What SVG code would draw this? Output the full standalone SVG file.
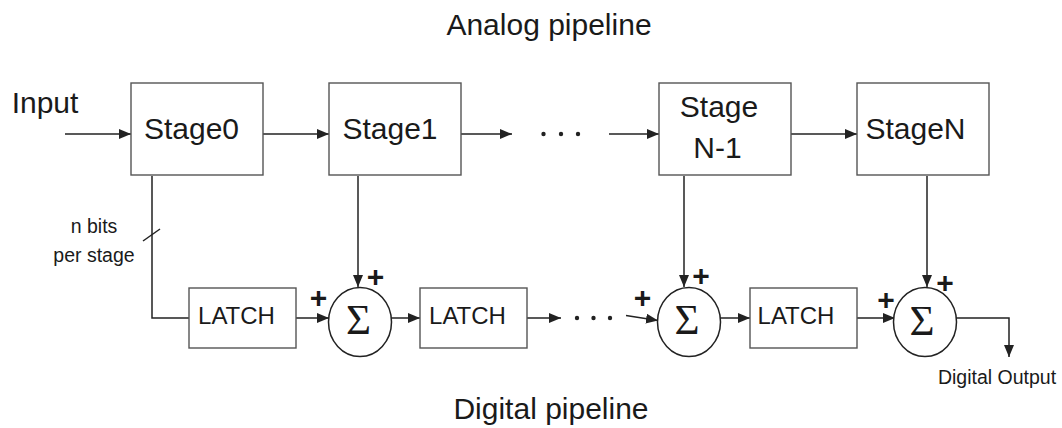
<svg xmlns="http://www.w3.org/2000/svg" width="1062" height="428" viewBox="0 0 1062 428">
<defs>
<marker id="ah" viewBox="0 0 12 10" refX="12" refY="5" markerWidth="12" markerHeight="10" markerUnits="userSpaceOnUse" orient="auto">
<path d="M0,0 L12,5 L0,10 z" fill="#222"/>
</marker>
<style>
.box{fill:#fff;stroke:#555;stroke-width:1.4}
.sum{fill:#fff;stroke:#222;stroke-width:1.5}
.ln{fill:none;stroke:#222;stroke-width:1.5}
.arr{fill:none;stroke:#222;stroke-width:1.5;marker-end:url(#ah)}
.t{font-family:"Liberation Sans",Arial,sans-serif;fill:#1a1a1a;text-anchor:middle}
.big{font-size:30px}
.lt{font-size:24px}
.sm{font-size:19.5px}
.sig{font-family:"Liberation Serif","Times New Roman",serif;font-size:43px;fill:#1a1a1a;text-anchor:middle}
.pl{font-family:"Liberation Sans",Arial,sans-serif;font-size:30px;font-weight:bold;fill:#1a1a1a;text-anchor:middle}
.dot{fill:#222}
</style>
</defs>
<rect width="1062" height="428" fill="#fff"/>

<text class="t big" x="549" y="35">Analog pipeline</text>
<text class="t big" x="551" y="419">Digital pipeline</text>
<text class="t big" x="45" y="113">Input</text>
<text class="t sm" x="94" y="233">n bits</text>
<text class="t sm" x="94" y="262">per stage</text>
<text class="t sm" x="997" y="384">Digital Output</text>

<g id="connectors">
<line class="arr" x1="65" y1="134" x2="131" y2="134"/>
<line class="arr" x1="263" y1="134" x2="329" y2="134"/>
<line class="arr" x1="461" y1="134" x2="512" y2="134"/>
<circle class="dot" cx="543.5" cy="134" r="2.2"/>
<circle class="dot" cx="561" cy="134" r="2.2"/>
<circle class="dot" cx="578" cy="134" r="2.2"/>
<line class="arr" x1="609" y1="134" x2="659" y2="134"/>
<line class="arr" x1="791" y1="134" x2="857" y2="134"/>

<polyline class="ln" points="152,176 152,318 189,318"/>
<line class="ln" x1="143" y1="241" x2="160" y2="229"/>

<line class="arr" x1="358" y1="176" x2="358" y2="287"/>
<line class="arr" x1="684" y1="176" x2="684" y2="287"/>
<line class="arr" x1="927" y1="176" x2="927" y2="287"/>

<line class="arr" x1="296" y1="318" x2="329" y2="318"/>
<line class="arr" x1="391" y1="318" x2="420" y2="318"/>
<line class="arr" x1="527" y1="318" x2="561" y2="318"/>
<circle class="dot" cx="577" cy="318" r="2.2"/>
<circle class="dot" cx="593.5" cy="318" r="2.2"/>
<circle class="dot" cx="610" cy="318" r="2.2"/>
<line class="arr" x1="626" y1="315.5" x2="658" y2="320.5"/>
<line class="arr" x1="720" y1="318" x2="750" y2="318"/>
<line class="arr" x1="857" y1="318" x2="895" y2="318"/>
<polyline class="arr" points="956,318 1009,318 1009,357"/>
</g>

<g id="stage0">
<rect class="box" x="131" y="83" width="132" height="92"/>
<text class="t big" x="191.5" y="139">Stage0</text>
</g>
<g id="stage1">
<rect class="box" x="329" y="83" width="132" height="92"/>
<text class="t big" x="390" y="139">Stage1</text>
</g>
<g id="stageN-1">
<rect class="box" x="659" y="83" width="132" height="92"/>
<text class="t big" x="719" y="117">Stage</text>
<text class="t big" x="717.5" y="158">N-1</text>
</g>
<g id="stageN">
<rect class="box" x="857" y="83" width="132" height="92"/>
<text class="t big" x="915.5" y="139">StageN</text>
</g>

<g id="latch1">
<rect class="box" x="189" y="288" width="107" height="60"/>
<text class="t lt" x="236.5" y="324">LATCH</text>
</g>
<g id="latch2">
<rect class="box" x="420" y="288" width="107" height="60"/>
<text class="t lt" x="467.5" y="324">LATCH</text>
</g>
<g id="latch3">
<rect class="box" x="750" y="288" width="107" height="60"/>
<text class="t lt" x="796" y="324">LATCH</text>
</g>

<g id="sum1">
<ellipse class="sum" cx="360" cy="322" rx="31.5" ry="34.5"/>
<text class="sig" x="358.5" y="334">Σ</text>
<text class="pl" x="375.5" y="287">+</text>
<text class="pl" x="318.5" y="308">+</text>
</g>
<g id="sum2">
<ellipse class="sum" cx="689" cy="322" rx="31.5" ry="34.5"/>
<text class="sig" x="687" y="334">Σ</text>
<text class="pl" x="701" y="286">+</text>
<text class="pl" x="642.5" y="308">+</text>
</g>
<g id="sum3">
<ellipse class="sum" cx="925" cy="322" rx="31.5" ry="34.5"/>
<text class="sig" x="922" y="335">Σ</text>
<text class="pl" x="945" y="293">+</text>
<text class="pl" x="886" y="309.5">+</text>
</g>
</svg>
